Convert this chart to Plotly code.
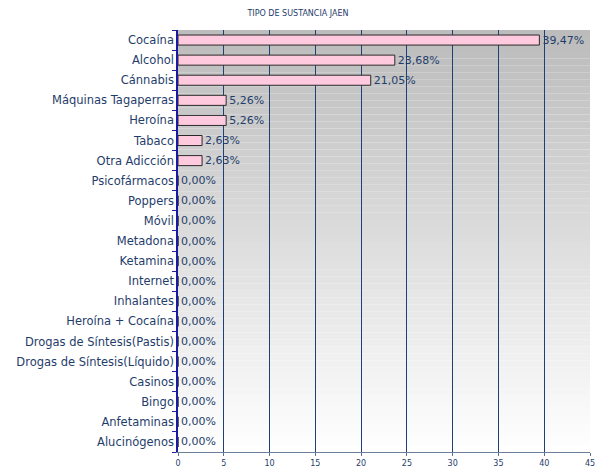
import plotly.graph_objects as go

# TIPO DE SUSTANCIA JAEN - porcentajes
categories = [
    "Cocaína", "Alcohol", "Cánnabis", "Máquinas Tagaperras", "Heroína",
    "Tabaco", "Otra Adicción", "Psicofármacos", "Poppers", "Móvil",
    "Metadona", "Ketamina", "Internet", "Inhalantes", "Heroína + Cocaína",
    "Drogas de Síntesis(Pastis)", "Drogas de Síntesis(Líquido)", "Casinos",
    "Bingo", "Anfetaminas", "Alucinógenos",
]
values = [39.47, 23.68, 21.05, 5.26, 5.26, 2.63, 2.63,
          0, 0, 0, 0, 0, 0, 0, 0, 0, 0, 0, 0, 0, 0]
x_ticks = [0, 5, 10, 15, 20, 25, 30, 35, 40, 45]

text_color = "#1f3d6b"
font_name = "DejaVu Sans, Liberation Sans, Arial, sans-serif"

fig = go.Figure()
fig.add_trace(go.Bar(
    x=values,
    y=categories,
    orientation="h",
    marker=dict(color="#ffcade", line=dict(color="#2a2a2a", width=1)),
    texttemplate="%{x:.2f}%",
    textposition="outside",
    constraintext="none",
    textfont=dict(color=text_color, size=11, family=font_name),
    cliponaxis=False,
))

# grey-to-white gradient behind the plot area
n_bands = 60
shapes = []
for i in range(n_bands):
    t = i / (n_bands - 1)
    g = int(188 + (255 - 188) * t)
    shapes.append(dict(
        type="rect", xref="x domain", yref="y domain",
        x0=0, x1=1, y0=1 - (i + 1) / n_bands, y1=1 - i / n_bands,
        fillcolor=f"rgb({g},{g},{g})", line=dict(width=0), layer="below",
    ))

fig.update_layout(
    width=596, height=470,
    margin=dict(l=178, r=6, t=30, b=18),
    paper_bgcolor="white",
    plot_bgcolor="rgba(0,0,0,0)",
    separators=",.",
    font=dict(family=font_name, color=text_color, size=11),
    title=dict(text="TIPO DE SUSTANCIA JAEN", x=0.5, xanchor="center",
               xref="container", yref="container",
               y=1 - 13 / 470, yanchor="middle", pad=dict(t=0, b=0),
               font=dict(size=8, color=text_color)),
    bargap=0.5,
    showlegend=False,
    shapes=shapes,
)
fig.update_xaxes(
    range=[0, 45], tickvals=x_ticks, ticks="outside", ticklen=3,
    tickcolor="#5a7090", tickfont=dict(size=8, color=text_color),
    ticklabeloverflow="allow",
    showgrid=True, gridcolor="#1f3f75", gridwidth=1, automargin=False,
    showline=True, linecolor="#6a7f99", zeroline=False, mirror=False,
)
fig.update_yaxes(
    categoryorder="array", categoryarray=categories[::-1],
    tickson="boundaries", ticks="outside", ticklen=4, tickcolor="#2020a0",
    showline=True, linecolor="#1a1aa0", linewidth=1.5, automargin=False,
    showgrid=False, tickfont=dict(size=11.5, color=text_color),
)

# drop the default body margin so the figure sits at the window's corner
fig.write_html("out.html", config={"displayModeBar": False},
               post_script="document.body.style.margin = '0';")
